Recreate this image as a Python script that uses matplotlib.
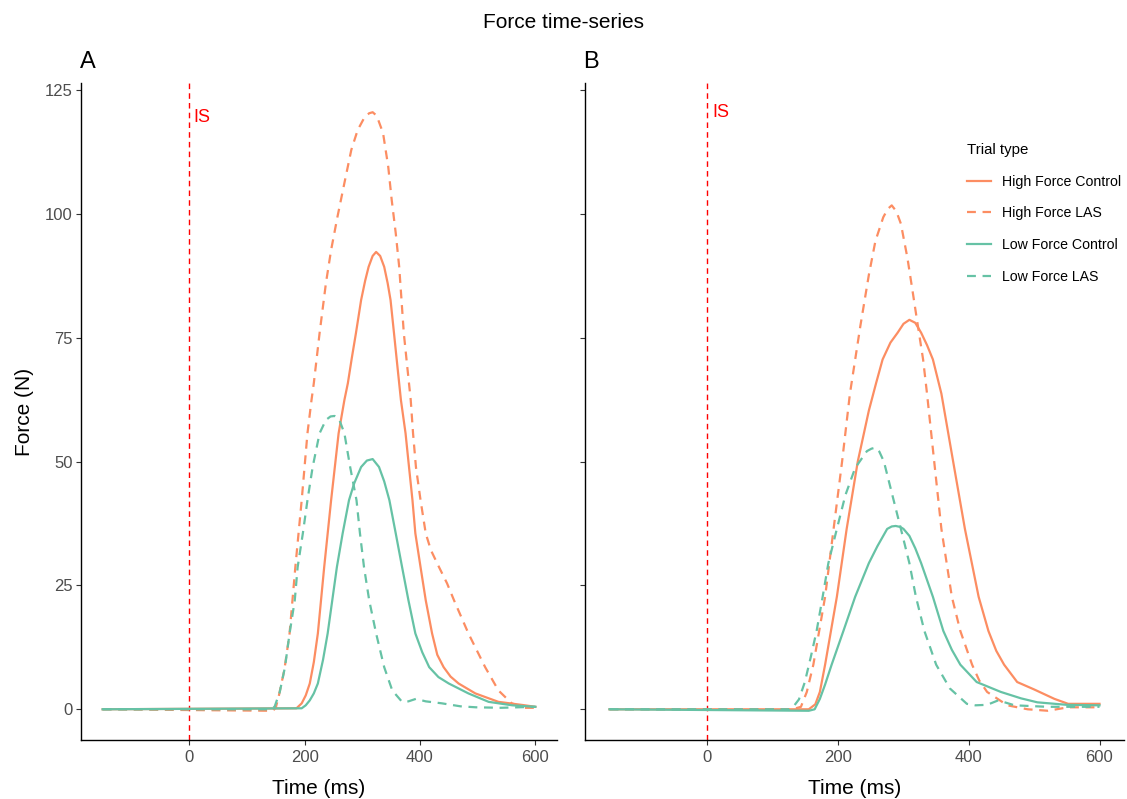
import matplotlib
matplotlib.use('Agg')
import matplotlib.pyplot as plt

# Colours (Set2-like) used in the original figure
ORANGE = '#FC8D62'
GREEN = '#66C2A5'

# ---- Panel A: time (ms) and force (N) ----
a_hf_ctrl_t = [-150, 186, 195, 202, 209, 216, 223, 234, 246, 259, 269, 275, 282, 289, 298, 305, 311, 318,
               324, 331, 338, 344, 349, 355, 361, 367, 375, 381, 387, 392, 401, 410, 421, 430, 441, 453,
               467, 496, 536, 582, 600]
a_hf_ctrl_f = [0, 0.2, 1.2, 2.8, 5.2, 9.5, 15.3, 28.7, 42.2, 55.7, 62.4, 65.8, 71.0, 75.9, 82.6, 86.5, 89.3,
               91.5, 92.3, 91.5, 89.3, 86.0, 82.6, 75.9, 69.1, 62.4, 55.7, 48.9, 42.2, 35.5, 28.7, 22.0,
               15.3, 11.0, 8.5, 6.6, 5.2, 3.2, 1.5, 0.8, 0.5]

a_hf_las_t = [-150, 145, 150, 155, 165, 174, 184, 195, 205, 212, 216, 226, 237, 246, 257, 269, 281, 292,
              304, 312, 318, 325, 336, 345, 351, 358, 364, 368, 372, 378, 384, 388, 393, 401, 410, 419,
              433, 447, 459, 484, 513, 536, 559, 580, 600]
a_hf_las_f = [0, -0.3, 0.3, 2.5, 8.0, 15.3, 28.7, 42.2, 55.7, 62.4, 65.8, 75.9, 86.0, 92.7, 99.4, 106.2,
              112.9, 116.9, 119.5, 120.3, 120.5, 119.8, 116.3, 109.5, 102.8, 96.1, 89.3, 82.6, 75.9, 69.1,
              62.4, 55.7, 48.9, 42.2, 35.5, 32.1, 28.7, 25.4, 22.0, 15.3, 8.5, 3.8, 1.2, 0.3, 0.3]

a_lf_ctrl_t = [-150, 195, 202, 209, 216, 223, 232, 240, 248, 256, 266, 277, 286, 298, 308, 318, 329, 338,
               347, 358, 369, 380, 392, 404, 416, 432, 450, 484, 519, 560, 600]
a_lf_ctrl_f = [0, 0.2, 0.8, 1.8, 3.2, 5.2, 10.0, 15.3, 22.0, 28.7, 35.5, 42.2, 45.6, 48.9, 50.2, 50.5,
               48.9, 46.0, 42.2, 35.5, 28.7, 22.0, 15.3, 11.5, 8.5, 6.5, 5.2, 3.2, 1.5, 0.8, 0.5]

a_lf_las_t = [-150, 140, 148, 157, 166, 174, 183, 188, 197, 205, 214, 226, 237, 245, 252, 260, 269, 279,
              290, 296, 303, 312, 324, 338, 352, 369, 380, 393, 410, 438, 470, 497, 540, 600]
a_lf_las_f = [0, 0, 0.5, 3.5, 8.5, 15.3, 22.0, 28.7, 35.5, 42.2, 48.9, 55.7, 58.4, 59.1, 59.2, 58.5, 55.7,
              48.9, 42.2, 35.5, 28.7, 22.0, 15.3, 8.5, 3.8, 1.5, 1.6, 2.1, 1.6, 1.2, 0.6, 0.4, 0.3, 0.5]

# ---- Panel B ----
b_hf_ctrl_t = [-150, 155, 165, 172, 180, 198, 213, 230, 247, 258, 268, 280, 291, 300, 309, 318, 327, 336,
               345, 358, 376, 394, 415, 430, 442, 454, 474, 500, 531, 552, 600]
b_hf_ctrl_f = [0, 0, 1.0, 3.5, 9.0, 22.7, 36.4, 50.0, 60.3, 65.8, 70.6, 74.0, 76.0, 77.8, 78.6, 78.0, 76.0,
               73.5, 70.6, 63.7, 50.0, 36.4, 22.7, 15.8, 11.8, 9.0, 5.5, 4.0, 2.1, 1.1, 1.1]

b_hf_las_t = [-150, 130, 143, 152, 162, 180, 193, 206, 218, 234, 247, 257, 269, 276, 282, 289, 296, 306,
              314, 322, 330, 336, 347, 358, 374, 387, 405, 416, 428, 459, 490, 521, 552, 600]
b_hf_las_f = [0, 0, 0.5, 3.5, 9.0, 22.7, 36.4, 50.0, 63.7, 77.4, 87.7, 94.5, 99.3, 101.0, 101.7, 100.5,
              98.0, 91.1, 84.3, 77.4, 70.6, 63.7, 50.0, 36.4, 22.7, 15.8, 9.0, 5.8, 3.5, 0.8, 0, -0.3, 0.4, 0.4]

b_lf_ctrl_t = [-150, 155, 164, 172, 180, 190, 208, 226, 247, 260, 275, 282, 288, 295, 300, 309, 318, 327,
               345, 361, 374, 387, 412, 449, 480, 505, 550, 600]
b_lf_ctrl_f = [0, -0.3, 0, 2.1, 5.0, 9.0, 15.8, 22.7, 29.5, 32.9, 36.4, 36.9, 37.0, 36.8, 36.4, 35.0,
               32.5, 29.5, 22.7, 15.8, 12.0, 9.0, 5.5, 3.5, 2.2, 1.4, 0.9, 0.8]

b_lf_las_t = [-150, 125, 133, 140, 149, 158, 167, 176, 185, 198, 211, 226, 244, 251, 257, 263, 270, 283,
              296, 309, 319, 332, 350, 371, 397, 410, 428, 445, 470, 520, 600]
b_lf_las_f = [0, 0, 0.8, 2.0, 5.5, 10.5, 15.8, 22.5, 29.5, 36.4, 43.2, 48.7, 52.1, 52.6, 52.8, 52.0, 50.0,
              43.2, 36.4, 29.5, 22.7, 15.8, 9.0, 4.2, 1.1, 0.8, 0.9, 1.8, 0.8, 0.5, 0.5]

trial_types = ['High Force Control', 'High Force LAS', 'Low Force Control', 'Low Force LAS']
panel_labels = ['A', 'B']
is_label_y = [119.5, 120.5]

W, H = 1127, 799
DASH = (0, (4, 3))


def fig_rect(left, top, right, bottom):
    # pixel box -> figure fraction
    return [left / W, 1 - bottom / H, (right - left) / W, (bottom - top) / H]


def style_axis(ax, show_ylabels):
    for side in ['top', 'right']:
        ax.spines[side].set_visible(False)
    for side in ['left', 'bottom']:
        ax.spines[side].set_linewidth(1.0)
        ax.spines[side].set_color('black')
    ax.set_xlim(-187.5, 637.5)
    ax.set_ylim(-6.2, 126.4)
    ax.set_xticks([0, 200, 400, 600])
    ax.set_yticks([0, 25, 50, 75, 100, 125])
    ax.tick_params(direction='out', length=3.5, width=0.8, pad=2.5, colors='#333333',
                   labelcolor='#4D4D4D', labelsize=12)
    ax.tick_params(axis='x', pad=4)
    if not show_ylabels:
        ax.tick_params(axis='y', labelleft=False)
    ax.set_xlabel('Time (ms)', fontsize=15, labelpad=10)


def draw_panel(ax, series):
    ax.axvline(0, color='#FF0000', lw=1.0, linestyle=(0, (4, 3)))
    for (t, f), name in zip(series, trial_types):
        color = ORANGE if name.startswith('High') else GREEN
        ls = DASH if name.endswith('LAS') else '-'
        ax.plot(t, f, color=color, lw=1.6, linestyle=ls, label=name)


def main():
    plt.rcParams['font.family'] = ['Liberation Sans', 'DejaVu Sans']
    fig = plt.figure(figsize=(W / 100, H / 100), dpi=100)

    ax_a = fig.add_axes(fig_rect(81, 83, 557, 740))
    ax_b = fig.add_axes(fig_rect(585, 83, 1124, 740))

    draw_panel(ax_a, [(a_hf_ctrl_t, a_hf_ctrl_f), (a_hf_las_t, a_hf_las_f),
                      (a_lf_ctrl_t, a_lf_ctrl_f), (a_lf_las_t, a_lf_las_f)])
    draw_panel(ax_b, [(b_hf_ctrl_t, b_hf_ctrl_f), (b_hf_las_t, b_hf_las_f),
                      (b_lf_ctrl_t, b_lf_ctrl_f), (b_lf_las_t, b_lf_las_f)])

    style_axis(ax_a, True)
    style_axis(ax_b, False)
    ax_a.set_ylabel('Force (N)', fontsize=15, labelpad=8)

    for ax, lab, y in zip([ax_a, ax_b], panel_labels, is_label_y):
        ax.text(8, y, 'IS', color='#FF0000', fontsize=13, ha='left', va='center')
    fig.text(80 / W, 1 - 68 / H, panel_labels[0], fontsize=17, ha='left', va='baseline')
    fig.text(583 / W, 1 - 68 / H, panel_labels[1], fontsize=17, ha='left', va='baseline')

    # Legend sits inside panel B
    ax_b.legend(title='Trial type', loc='upper left', frameon=False,
                bbox_to_anchor=(967 / W, 1 - 143 / H), bbox_transform=fig.transFigure,
                fontsize=10.2, title_fontsize=10.8, handlelength=1.7,
                handletextpad=0.8, labelspacing=1.25, borderpad=0, borderaxespad=0,
                alignment='left')

    fig.suptitle('Force time-series', fontsize=15, y=1 - 23 / H, va='center')

    fig.savefig('out.png', dpi=100)


if __name__ == '__main__':
    main()
